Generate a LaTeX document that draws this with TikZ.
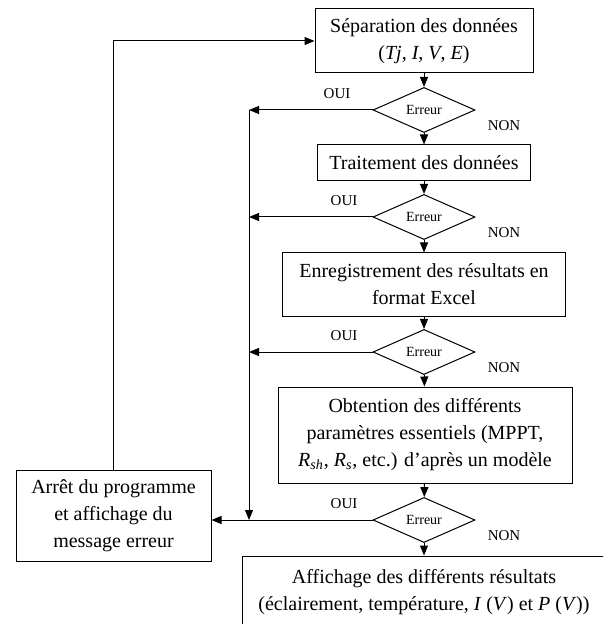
\documentclass[tikz,border=0pt]{standalone}
\usepackage{fontspec}
\setmainfont{Liberation Serif}
\usetikzlibrary{arrows.meta,shapes.geometric}

\begin{document}
\begin{tikzpicture}[x=0.5pt,y=-0.5pt,line width=0.5pt,>={Triangle[length=5pt,width=4pt]}]
   \tikzstyle{box}=[rectangle, draw=black, align=center, inner sep=2pt, font=\fontsize{10}{13.5}\selectfont]
   \tikzstyle{test}=[diamond, draw=black, inner sep=0pt, minimum width=51pt, minimum height=21pt, font=\fontsize{7}{8}\selectfont]
   \tikzstyle{lbl}=[inner sep=0pt, font=\fontsize{7.5}{9}\selectfont]
   \clip (0,0) rectangle (603,624);
   % main chain
   \node[box, minimum width=109pt, minimum height=32pt] (sep) at (424,41)
      {Séparation des données\\(\textit{Tj}, \textit{I}, \textit{V}, \textit{E})};
   \node[test] (err1) at (424,110) {Erreur};
   \node[box, minimum width=106.5pt, minimum height=18pt] (trait) at (424,163) {Traitement des données};
   \node[test] (err2) at (424,217) {Erreur};
   \node[box, minimum width=141.5pt, minimum height=31.5pt] (enr) at (424,284.5)
      {Enregistrement des résultats en\\format Excel};
   \node[test] (err3) at (424,352) {Erreur};
   \node[box, minimum width=147pt, minimum height=48pt] (obt) at (425,435)
      {Obtention des différents\\paramètres essentiels (MPPT,\\\textit{R}\textsubscript{\textit{sh}}, \textit{R}\textsubscript{\textit{s}}, etc.) d'après un modèle};
   \node[test] (err4) at (424,520) {Erreur};
   \node[box, minimum width=182pt, minimum height=36pt] (aff) at (424,592)
      {Affichage des différents résultats\\(éclairement, température, \textit{I} (\textit{V}) et \textit{P} (\textit{V}))};
   \node[box, minimum width=97.5pt, minimum height=45.5pt] (arret) at (113.5,515.5)
      {Arrêt du programme\\et affichage du\\message erreur};
   \foreach \a/\b in {sep/err1,err1/trait,trait/err2,err2/enr,enr/err3,err3/obt,obt/err4,err4/aff}
      \draw[->] (\a) -- (\b);
   % error branches
   \coordinate (bus) at (249,110);
   \draw[->] (err1.west) -- (bus);
   \draw[->] (bus) -- (bus |- err4.west);
   \draw[->] (err2.west) -- (err2.west -| bus);
   \draw[->] (err3.west) -- (err3.west -| bus);
   \draw[->] (err4.west) -- (err4.west -| arret.east);
   \draw[->] (arret.north) |- (sep.west);
   \foreach \d/\dx in {err1/-87,err2/-80,err3/-80,err4/-80} {
      \path (\d.center) ++(\dx,-16) node[lbl] {OUI};
      \path (\d.center) ++(80,16) node[lbl] {NON};
   }
\end{tikzpicture}
\end{document}
